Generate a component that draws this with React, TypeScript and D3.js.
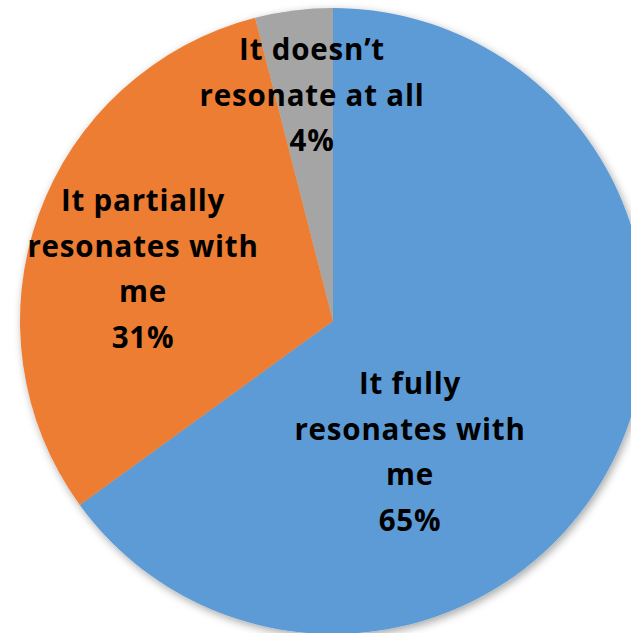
import React from "react";
import * as d3 from "d3";

const categories = ["It fully resonates with me", "It partially resonates with me", "It doesn’t resonate at all"];
const values = [65, 31, 4];
const labelLines = [
  ["It fully", "resonates with", "me", "65%"],
  ["It partially", "resonates with", "me", "31%"],
  ["It doesn’t", "resonate at all", "4%"],
];
const colors = ["#5B9BD5", "#ED7D31", "#A5A5A5"];

const W = 631;
const H = 633;
const CX = 333;
const CY = 321;
const R = 313;
// label block anchors (center x, first baseline y), relative to pie center
const labelAnchors = [
  [77, 73],
  [-190, -110],
  [-21, -261],
];
const LINE = 45.5;

export default function App() {
  const pie = d3.pie<number>().sort(null).value((d) => d)(values);
  const arc = d3.arc<d3.PieArcDatum<number>>().innerRadius(0).outerRadius(R);
  return (
    <svg
      width={W}
      height={H}
      style={{ position: "absolute", left: 0, top: 0, background: "#fff" }}
    >
      <defs>
        <filter id="sh" x="-20%" y="-20%" width="140%" height="140%">
          <feDropShadow dx="2" dy="3" stdDeviation="4" floodColor="#000" floodOpacity="0.35" />
        </filter>
      </defs>
      <g transform={`translate(${CX},${CY})`}>
        <g filter="url(#sh)">
          {pie.map((p, i) => (
            <path key={categories[i]} d={arc(p) || ""} fill={colors[i]} />
          ))}
        </g>
        {labelLines.map((lines, i) => (
          <text
            key={i}
            textAnchor="middle"
            fontFamily="'Open Sans', sans-serif"
            fontWeight={700}
            fontSize={29.5}
            letterSpacing={0.8}
            fill="#000"
          >
            {lines.map((l, j) => (
              <tspan key={j} x={labelAnchors[i][0]} y={labelAnchors[i][1] + j * LINE}>
                {l}
              </tspan>
            ))}
          </text>
        ))}
      </g>
    </svg>
  );
}
